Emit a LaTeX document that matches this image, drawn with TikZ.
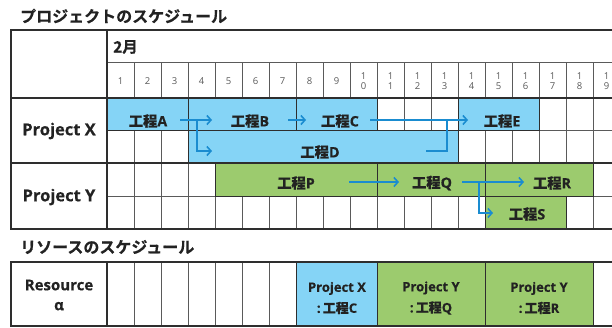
\documentclass[tikz,border=0pt]{standalone}
\usepackage{fontspec}
\setmainfont{Open Sans}[BoldFeatures={FakeBold=0.5}]
\newfontfamily\jpf{Noto Sans CJK JP Bold}[FakeBold=0.5]
\usetikzlibrary{arrows.meta}
\definecolor{barblue}{HTML}{85D4F6}
\definecolor{bargreen}{HTML}{9CCB6E}
\definecolor{arr}{HTML}{1A8CD0}
\definecolor{gridc}{HTML}{5A5A5A}
\definecolor{framec}{HTML}{2E2E2E}
\definecolor{txt}{HTML}{222222}
\begin{document}
\begin{tikzpicture}[x=1pt,y=-1pt,
  thinline/.style={draw=gridc,line width=1pt},
  thickline/.style={draw=framec,line width=2.2pt},
  bluebar/.style={fill=barblue,draw=framec,line width=0.8pt},
  greenbar/.style={fill=bargreen,draw=framec,line width=0.8pt},
  flow/.style={draw=arr,line width=1.6pt,-{Straight Barb[length=4pt,width=9pt,line width=1.6pt]}},
  flowline/.style={draw=arr,line width=1.6pt},
  task/.style={font=\bfseries\fontsize{14.3}{15}\selectfont,text=txt,inner sep=0pt},
  proj/.style={font=\bfseries\fontsize{16.5}{18}\selectfont,text=txt,inner sep=0pt},
  title/.style={font=\jpf\fontsize{16}{17}\selectfont,text=txt,inner sep=0pt,anchor=west},
  daynum/.style={font=\fontsize{9.5}{11}\selectfont,text=black!65,inner sep=0pt,align=center},
  rescell/.style={font=\bfseries\fontsize{13}{21}\selectfont,text=txt,inner sep=0pt,align=center}
]
\useasboundingbox (0,0) rectangle (612,327);

% titles
\node[title] (t1) at (20,16) {プロジェクトのスケジュール};
\node[title] (t2) at (20,247) {リソースのスケジュール};

% ---------- project table grid ----------
\foreach \k in {1,...,18} {
  \draw[thinline] (107+27*\k,62) -- (107+27*\k,229);
  \draw[thinline] (107+27*\k,262) -- (107+27*\k,326);
}
\draw[thinline] (107,62) -- (612,62);
\draw[thinline] (107,130) -- (612,130);
\draw[thinline] (107,196) -- (612,196);

% bars project X
\draw[bluebar] (107,98) rectangle (188,130);
\draw[bluebar] (188,98) rectangle (296,130);
\draw[bluebar] (296,98) rectangle (377,130);
\draw[bluebar] (458,98) rectangle (539,130);
\draw[bluebar] (188,130) rectangle (458,163);
% bars project Y
\draw[greenbar] (215,163) rectangle (377,196);
\draw[greenbar] (377,163) rectangle (485,196);
\draw[greenbar] (485,163) rectangle (593,196);
\draw[greenbar] (485,196) rectangle (566,229);
% resource bars
\draw[bluebar] (296,262) rectangle (377,326);
\draw[greenbar] (377,262) rectangle (485,326);
\draw[greenbar] (485,262) rectangle (593,326);

% thick frame
\draw[thickline] (11,30) -- (612,30);
\draw[thickline] (11,98) -- (612,98);
\draw[thickline] (11,163) -- (612,163);
\draw[thickline] (11,229) -- (612,229);
\draw[thickline] (11,29) -- (11,230);
\draw[thickline] (107,29) -- (107,230);
\draw[thickline] (11,262) -- (612,262);
\draw[thickline] (11,326) -- (612,326);
\draw[thickline] (11,261) -- (11,327);
\draw[thickline] (107,261) -- (107,327);

% header
\node[font=\jpf\fontsize{15.5}{17}\selectfont,text=txt,inner sep=0pt,anchor=west] (month) at (113,47) {2月};
\foreach \i in {1,...,9} {
  \node[daynum] (day\i) at (107+27*\i-13.5,81) {\i};
}
\foreach \i/\d in {10/0,11/1,12/2,13/3,14/4,15/5,16/6,17/7,18/8,19/9} {
  \node[daynum] (day\i) at (107+27*\i-13.5,81) {1\\[-0.5pt]\d};
}

% row labels
\node[proj] (px) at (59,131) {Project X};
\node[proj] (py) at (59,197) {Project Y};
\node[proj,align=center,font=\bfseries\fontsize{15}{20}\selectfont] (ra) at (59,295) {Resource\\α};

% task labels
\node[task] (tA) at (148,121) {{\jpf 工程}A};
\node[task] (tB) at (250,121) {{\jpf 工程}B};
\node[task] (tC) at (340,121) {{\jpf 工程}C};
\node[task] (tE) at (502,121) {{\jpf 工程}E};
\node[task] (tD) at (320,152) {{\jpf 工程}D};
\node[task] (tP) at (296,183) {{\jpf 工程}P};
\node[task] (tQ) at (432,183) {{\jpf 工程}Q};
\node[task] (tR) at (552,183) {{\jpf 工程}R};
\node[task] (tS) at (527,214) {{\jpf 工程}S};

% resource cells
\node[rescell] (rc) at (337,298) {Project X\\:\,{\jpf 工程}C};
\node[rescell] (rq) at (431,298) {Project Y\\:\,{\jpf 工程}Q};
\node[rescell] (rr) at (539,298) {Project Y\\:\,{\jpf 工程}R};

% arrow coordinates
\coordinate (a0) at (180,120);
\coordinate (ab) at (197,120);
\coordinate (a1) at (212,120);
\coordinate (a2) at (197,151);
\coordinate (a3) at (212,151);
\coordinate (b0) at (288,120);
\coordinate (b1) at (306,120);
\coordinate (c0) at (370,120);
\coordinate (c1) at (468,120);
\coordinate (d0) at (426,151);
\coordinate (d1) at (447,151);
\coordinate (d2) at (447,120);
\coordinate (p0) at (349,182);
\coordinate (p1) at (399,182);
\coordinate (q0) at (462,182);
\coordinate (qb) at (479,182);
\coordinate (q1) at (524,182);
\coordinate (q2) at (479,213);
\coordinate (q3) at (493,213);

\draw[flow] (a0) -- (a1);
\draw[flow] (ab) -- (a2) -- (a3);
\draw[flow] (b0) -- (b1);
\draw[flow] (c0) -- (c1);
\draw[flowline] (d0) -- (d1) -- (d2);
\draw[flow] (p0) -- (p1);
\draw[flow] (q0) -- (q1);
\draw[flow] (qb) -- (q2) -- (q3);
\end{tikzpicture}
\end{document}
